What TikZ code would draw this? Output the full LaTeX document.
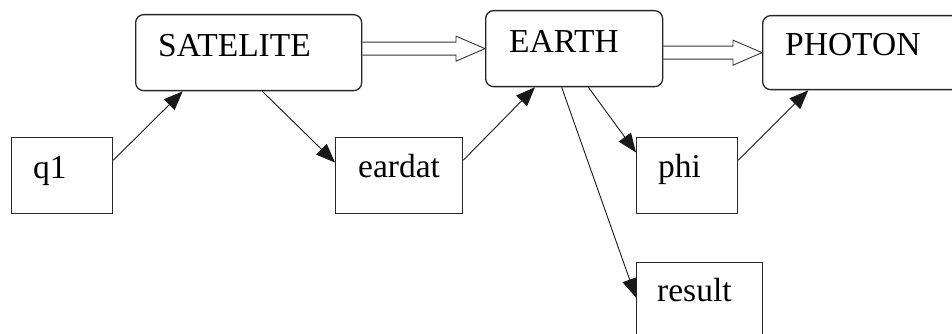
\documentclass[tikz,border=0pt]{standalone}
\usepackage{fontspec}
\setmainfont{Liberation Serif}
\usetikzlibrary{arrows.meta,calc}
\tikzset{
  rbox/.style={draw=black!85,line width=1.3pt,rounded corners=8pt,anchor=north west,inner sep=0pt,fill=white},
  sbox/.style={draw=black!85,line width=1.3pt,anchor=north west,inner sep=0pt,fill=white},
  lbl/.style={anchor=base west,inner sep=0pt,font=\fontsize{33.5}{38}\selectfont},
  conn/.style={draw=black!90,line width=0.9pt,-{Triangle[length=19pt,width=15pt]}},
  hollow/.style={draw=black!80,line width=0.9pt,line join=miter}
}
\newcommand\hollowarr[2]{%
  \draw[hollow] ($(#1.east|-#2.west)+(0,-6.5)$) -- ($(#2.west)+(-29,-6.5)$)
    -- ($(#2.west)+(-29,-12.5)$) -- (#2.west) -- ($(#2.west)+(-29,12.5)$)
    -- ($(#2.west)+(-29,6.5)$) -- ($(#1.east|-#2.west)+(0,6.5)$);}
\begin{document}
\begin{tikzpicture}[x=1pt,y=-1pt]
\useasboundingbox (0,0) rectangle (952,334);
\clip (0,0) rectangle (952,334);
\fill[white] (0,0) rectangle (952,334);
% boxes
\node[rbox,minimum width=226pt,minimum height=76pt] (sat) at (135,14) {};
\node[rbox,minimum width=177pt,minimum height=76pt] (earth) at (485,10) {};
\node[rbox,minimum width=230pt,minimum height=74pt] (photon) at (762,15) {};
\node[sbox,minimum width=101pt,minimum height=76pt] (q1) at (11,137) {};
\node[sbox,minimum width=127pt,minimum height=76pt] (eardat) at (335,137) {};
\node[sbox,minimum width=101pt,minimum height=76pt] (phi) at (636,137) {};
\node[sbox,minimum width=126pt,minimum height=90pt] (result) at (636,262) {};
% labels
\node[lbl] (tsat) at (158,57) {SATELITE};
\node[lbl] (tearth) at (509,53) {EARTH};
\node[lbl] (tphoton) at (785,56) {PHOTON};
\node[lbl] (tq1) at (33,178) {q1};
\node[lbl] (teardat) at (358,177) {eardat};
\node[lbl] (tphi) at (658,177) {phi};
\node[lbl] (tresult) at (657,301) {result};
% connectors
\draw[conn] ($(q1.north east)!0.3!(q1.south east)$) -- ($(sat.south west)!0.21!(sat.south east)$);
\draw[conn] ($(sat.south west)!0.56!(sat.south east)$) -- ($(eardat.north west)!0.33!(eardat.south west)$);
\draw[conn] ($(eardat.north east)!0.3!(eardat.south east)$) -- ($(earth.south west)!0.28!(earth.south east)$);
\draw[conn] ($(earth.south west)!0.58!(earth.south east)$) -- ($(phi.north west)!0.2!(phi.south west)$);
\draw[conn] ($(earth.south west)!0.43!(earth.south east)$) -- ($(result.north west)!0.39!(result.south west)$);
\draw[conn] ($(phi.north east)!0.3!(phi.south east)$) -- ($(photon.south west)!0.2!(photon.south east)$);
% hollow arrows
\hollowarr{sat}{earth}
\hollowarr{earth}{photon}
\end{tikzpicture}
\end{document}
